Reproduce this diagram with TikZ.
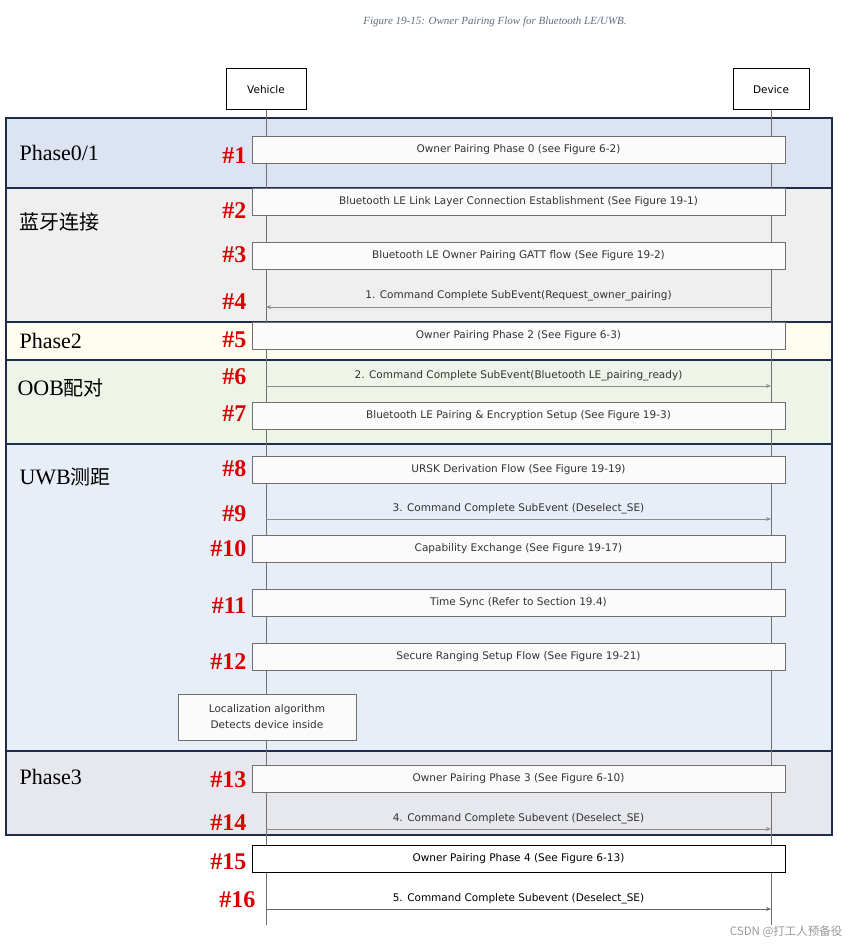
\documentclass[tikz,border=0pt]{standalone}
\usepackage{fontspec}
\setmainfont{Liberation Serif}
\newfontfamily\boxfont{DejaVu Sans}
\newfontfamily\cjk{Noto Sans CJK SC}
\usetikzlibrary{arrows.meta}
\definecolor{navy}{HTML}{1F2D4D}
\definecolor{txt}{HTML}{333333}
\definecolor{edge}{HTML}{707070}
\definecolor{cA}{HTML}{DCE3F2}
\definecolor{cB}{HTML}{EFEFEF}
\definecolor{cC}{HTML}{FFFCF0}
\definecolor{cD}{HTML}{EEF5E8}
\definecolor{cE}{HTML}{E8EEF8}
\definecolor{cF}{HTML}{E6E8EE}
\tikzset{
  band/.style={draw=navy,line width=1.3pt},
  stepbox/.style={draw=edge,line width=1pt,fill=white!60!black!4,minimum width=533pt,minimum height=27pt,inner sep=0pt,font=\boxfont\fontsize{10.5}{12}\selectfont,text=txt},
  msg/.style={draw=black!45,line width=0.8pt,-{Stealth[length=5pt,width=4pt]}},
  msgtxt/.style={font=\boxfont\fontsize{10.5}{12}\selectfont,text=txt},
  num/.style={font=\bfseries\fontsize{24}{26}\selectfont,text=red!85!black},
  phase/.style={font=\fontsize{22}{24}\selectfont,anchor=west},
  actor/.style={draw=black,line width=1pt,fill=white,minimum width=80pt,minimum height=41pt,inner sep=0pt,font=\boxfont\fontsize{10.5}{12}\selectfont},
  life/.style={draw=edge,line width=1pt}
}
\begin{document}
\begin{tikzpicture}[x=1pt,y=-1pt]
\useasboundingbox (0,0) rectangle (850,947);
% bands
\fill[cA] (6,118) rectangle (832,188);
\fill[cB] (6,188) rectangle (832,322);
\fill[cC] (6,322) rectangle (832,360);
\fill[cD] (6,360) rectangle (832,444);
\fill[cE] (6,444) rectangle (832,751);
\fill[cF] (6,751) rectangle (832,835);
\draw[band] (6,118) rectangle (832,835);
\foreach \yy in {188,322,360,444,751} \draw[band] (6,\yy) -- (832,\yy);
% caption
\node[font=\itshape\fontsize{11}{13}\selectfont,text=navy!70] (cap) at (495,22) {Figure 19-15: Owner Pairing Flow for Bluetooth LE/UWB.};
% actors
\node[actor] (veh) at (266,89.5) {Vehicle};
\node[actor,minimum width=76pt] (dev) at (771,89.5) {Device};
\coordinate (vend) at (266,925);
\coordinate (dend) at (771,925);
\draw[life] (veh) -- (vend);
\draw[life] (dev) -- (dend);
% phase labels
\node[phase] (p1) at (16,153) {Phase0/1};
\node[phase] (p2) at (16,222) {\cjk\fontsize{20}{22}\selectfont 蓝牙连接};
\node[phase] (p3) at (16,341) {Phase2};
\node[phase] (p4) at (14,388) {OOB\cjk\fontsize{20}{22}\selectfont 配对};
\node[phase] (p5) at (16,477) {UWB\cjk\fontsize{20}{22}\selectfont 测距};
\node[phase] (p6) at (16,777) {Phase3};
% boxes
\node[stepbox] (b1) at (518.5,149.5) {Owner Pairing Phase 0 (see Figure 6-2)};
\node[stepbox] (b2) at (518.5,202) {Bluetooth LE Link Layer Connection Establishment (See Figure 19-1)};
\node[stepbox] (b3) at (518.5,256) {Bluetooth LE Owner Pairing GATT flow (See Figure 19-2)};
\node[stepbox] (b5) at (518.5,335.5) {Owner Pairing Phase 2 (See Figure 6-3)};
\node[stepbox] (b7) at (518.5,415.5) {Bluetooth LE Pairing \& Encryption Setup (See Figure 19-3)};
\node[stepbox] (b8) at (518.5,469.5) {URSK Derivation Flow (See Figure 19-19)};
\node[stepbox] (b10) at (518.5,549) {Capability Exchange (See Figure 19-17)};
\node[stepbox] (b11) at (518.5,602.5) {Time Sync (Refer to Section 19.4)};
\node[stepbox] (b12) at (518.5,656.5) {Secure Ranging Setup Flow (See Figure 19-21)};
\node[stepbox] (b13) at (518.5,778.5) {Owner Pairing Phase 3 (See Figure 6-10)};
\node[stepbox,draw=black,fill=white,text=black] (b15) at (518.5,859) {Owner Pairing Phase 4 (See Figure 6-13)};
\node[stepbox,minimum width=178pt,minimum height=46pt,align=center,font=\boxfont\fontsize{10.5}{16}\selectfont] (loc) at (267,717) {Localization algorithm\\Detects device inside};
% messages
\coordinate (v4) at (266,307); \coordinate (d4) at (771,307);
\draw[msg] (d4) -- (v4);
\node[msgtxt] (m4) at (518.5,296) {1. Command Complete SubEvent(Request\_owner\_pairing)};
\coordinate (v6) at (266,386); \coordinate (d6) at (771,386);
\draw[msg] (v6) -- (d6);
\node[msgtxt] (m6) at (518.5,376) {2. Command Complete SubEvent(Bluetooth LE\_pairing\_ready)};
\coordinate (v9) at (266,519); \coordinate (d9) at (771,519);
\draw[msg] (v9) -- (d9);
\node[msgtxt] (m9) at (518.5,509) {3. Command Complete SubEvent (Deselect\_SE)};
\coordinate (v14) at (266,829); \coordinate (d14) at (771,829);
\draw[msg] (v14) -- (d14);
\node[msgtxt] (m14) at (518.5,819) {4. Command Complete Subevent (Deselect\_SE)};
\coordinate (v16) at (266,909); \coordinate (d16) at (771,909);
\draw[msg,draw=black!60] (v16) -- (d16);
\node[msgtxt,text=black] (m16) at (518.5,899) {5. Command Complete Subevent (Deselect\_SE)};
% numbers
\foreach \n/\yy in {1/156,2/211,3/255,4/302,5/340,6/377,7/414,8/469,9/514,10/549,11/606,12/662,13/780,14/823,15/862}
  \node[num,anchor=east] (n\n) at (250,\yy) {\#\n};
\node[num,anchor=east] (n16) at (259,900) {\#16};
% watermark
\node[font=\cjk\fontsize{11.5}{13}\selectfont,text=black!40,anchor=east] (wm) at (846,932) {CSDN @打工人预备役};
\end{tikzpicture}
\end{document}
